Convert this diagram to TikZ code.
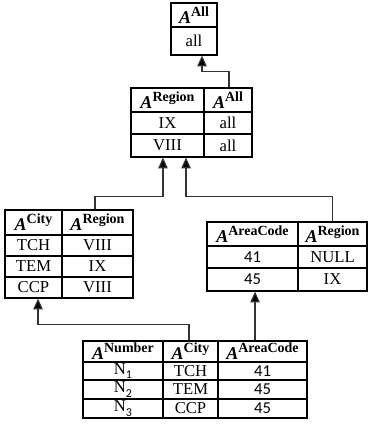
\documentclass[tikz,border=0pt]{standalone}
\usepackage{fontspec}
\setmainfont{Liberation Serif}
\newfontfamily\numfont{Carlito}
\usetikzlibrary{arrows.meta}
\newcommand\hd[1]{{\fontsize{13.5}{14}\selectfont\bfseries\itshape A}\raisebox{0.42em}{\fontsize{10.5}{11}\selectfont\bfseries #1}}
\newcommand\nm[1]{{\numfont #1}}
\newcommand\nsub[1]{N\raisebox{-0.25em}{\fontsize{9}{10}\selectfont\numfont #1}}
\newcommand\cellnode[6]{\node[cell, minimum width={(#4-#2)*0.75pt}, minimum height={(#5-#3)*0.75pt}] (#1) at ({(#2+#4)/2},{(#3+#5)/2}) {#6};}
\tikzset{
  cell/.style={draw=black, line width=0.9pt, inner sep=0pt, font=\fontsize{12.5}{14}\selectfont},
  arr/.style={draw=black!80, line width=0.85pt, -{Triangle[width=7pt,length=8pt,fill=black]}},
}
\begin{document}
\begin{tikzpicture}[x=0.75pt,y=-0.75pt]
\useasboundingbox (0,0) rectangle (368,434);
% A^All
\cellnode{all1}{171}{3}{217}{27}{\hd{All}}
\cellnode{all2}{171}{27}{217}{55}{all}
% Region table
\cellnode{reg11}{131}{88}{204}{112}{\hd{Region}}
\cellnode{reg12}{204}{88}{252}{112}{\hd{All}}
\cellnode{reg21}{131}{112}{204}{134}{IX}
\cellnode{reg22}{204}{112}{252}{134}{all}
\cellnode{reg31}{131}{134}{204}{157}{VIII}
\cellnode{reg32}{204}{134}{252}{157}{all}
% City table
\cellnode{city11}{5}{210}{62}{235}{\hd{City}}
\cellnode{city12}{62}{210}{133}{235}{\hd{Region}}
\cellnode{city21}{5}{235}{62}{256}{TCH}
\cellnode{city22}{62}{235}{133}{256}{VIII}
\cellnode{city31}{5}{256}{62}{277}{TEM}
\cellnode{city32}{62}{256}{133}{277}{IX}
\cellnode{city41}{5}{277}{62}{298}{CCP}
\cellnode{city42}{62}{277}{133}{298}{VIII}
% AreaCode table
\cellnode{area11}{207}{222}{298}{246}{\hd{AreaCode}}
\cellnode{area12}{298}{222}{367}{246}{\hd{Region}}
\cellnode{area21}{207}{246}{298}{268}{\nm{41}}
\cellnode{area22}{298}{246}{367}{268}{NULL}
\cellnode{area31}{207}{268}{298}{291}{\nm{45}}
\cellnode{area32}{298}{268}{367}{291}{IX}
% Number table
\cellnode{num11}{83}{341}{163}{362}{\hd{Number}}
\cellnode{num12}{163}{341}{218}{362}{\hd{City}}
\cellnode{num13}{218}{341}{307}{362}{\hd{AreaCode}}
\cellnode{num21}{83}{362}{163}{380}{\nsub{1}}
\cellnode{num22}{163}{362}{218}{380}{TCH}
\cellnode{num23}{218}{362}{307}{380}{\nm{41}}
\cellnode{num31}{83}{380}{163}{399}{\nsub{2}}
\cellnode{num32}{163}{380}{218}{399}{TEM}
\cellnode{num33}{218}{380}{307}{399}{\nm{45}}
\cellnode{num41}{83}{399}{163}{418}{\nsub{3}}
\cellnode{num42}{163}{399}{218}{418}{CCP}
\cellnode{num43}{218}{399}{307}{418}{\nm{45}}
% connectors
\draw[arr] ([xshift=0.75pt]reg12.north) -- ++(0,-16) -| ([xshift=6pt]all2.south);
\draw[arr] ([xshift=-1.9pt]city12.north) -- ++(0,-13) -| ([xshift=-3.4pt]reg31.south);
\draw[arr] (area12.north) -- ++(0,-25) -| ([xshift=13.9pt]reg31.south);
\draw[arr] ([xshift=-1.1pt]num12.north) -- ++(0,-16) -| ([xshift=3.4pt]city41.south);
\draw[arr] ([xshift=-5.6pt]num13.north) -- ([xshift=-5.6pt]num13.north |- area31.south);
\end{tikzpicture}
\end{document}
